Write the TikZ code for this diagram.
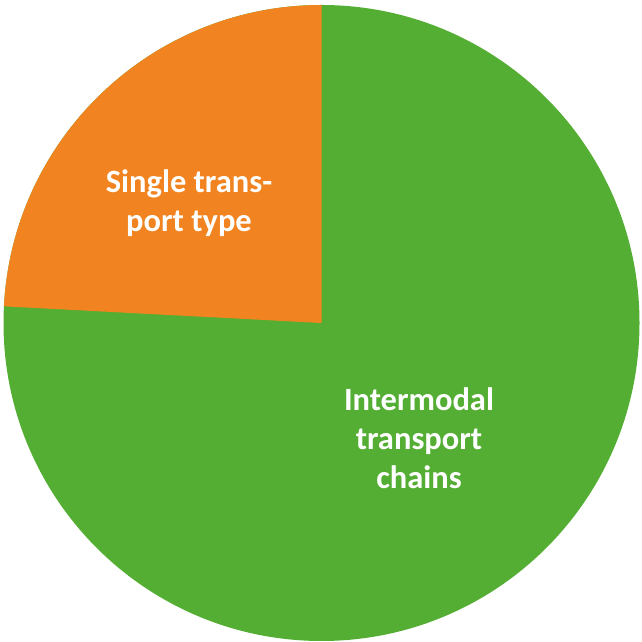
\documentclass[tikz,border=0pt]{standalone}
\usepackage{fontspec}
\setmainfont{Carlito}
\definecolor{piegreen}{RGB}{84, 174, 52}
\definecolor{pieorange}{RGB}{241, 132, 32}
\usetikzlibrary{positioning}

\begin{document}
\begin{tikzpicture}[x=1pt, y=1pt,
  label/.style={text=white, font=\fontsize{32.5}{39}\selectfont\bfseries, align=center, inner sep=0pt},
]
\useasboundingbox (0,0) rectangle (642,642);
\coordinate (c) at (321.5, 319);

% slices
\fill[piegreen] (c) circle (318pt);
\fill[pieorange] (c) -- ++(90:318pt) arc (90:177:318pt) -- cycle;

% labels
\node[label] (single) at (189, 439) {Single trans-\\port type};
\node[label] (intermodal) at (419, 204) {Intermodal\\transport\\chains};
\end{tikzpicture}
\end{document}
